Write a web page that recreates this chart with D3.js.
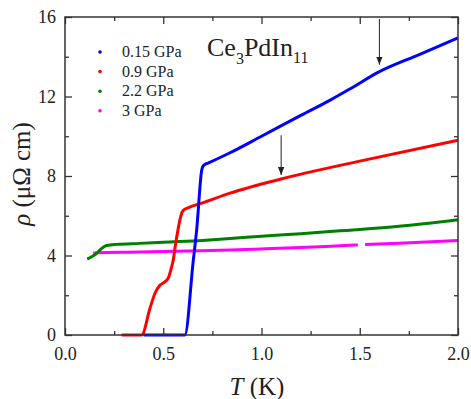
<!DOCTYPE html>
<html>
<head>
<meta charset="utf-8">
<script src="https://cdn.jsdelivr.net/npm/d3@7"></script>
<style>
  body { margin: 0; background: #fff; }
</style>
</head>
<body>
<div id="chart"></div>
<script>
// series: temperature (K) and resistivity (µΩ cm)
const blueT   = [0.40, 0.61, 0.653, 0.67, 0.696, 0.70, 0.712, 0.728, 0.84, 1.0, 1.2, 1.35, 1.45, 1.6, 1.8, 2.0];
const blueRho = [0, 0, 3.77, 5.28, 8.3, 8.45, 8.58, 8.65, 9.17, 10.0, 11.05, 11.82, 12.38, 13.25, 14.1, 14.95];

const redT   = [0.288, 0.39, 0.433, 0.458, 0.483, 0.509, 0.526, 0.543, 0.551, 0.56, 0.575, 0.59, 0.60, 0.626, 0.70, 0.84, 1.1, 1.5, 2.0];
const redRho = [0, 0, 1.36, 2.1, 2.5, 2.68, 2.87, 3.44, 3.77, 4.4, 5.3, 6.0, 6.25, 6.4, 6.65, 7.14, 7.85, 8.75, 9.8];

const greenT   = [0.113, 0.136, 0.16, 0.187, 0.212, 0.263, 0.38, 0.5, 0.7, 0.84, 1.0, 1.2, 1.4, 1.5, 1.7, 2.0];
const greenRho = [3.82, 3.94, 4.1, 4.36, 4.5, 4.56, 4.61, 4.67, 4.76, 4.85, 4.97, 5.1, 5.24, 5.31, 5.47, 5.8];

const magentaT   = [0.144, 0.16, 0.38, 0.69, 0.84, 1.0, 1.2, 1.4, 1.49, 1.51, 1.527, 1.7, 2.0];
const magentaRho = [4.11, 4.14, 4.17, 4.24, 4.28, 4.33, 4.4, 4.49, 4.53, null, 4.55, 4.62, 4.76];

const labels = ['0.15 GPa', '0.9 GPa', '2.2 GPa', '3 GPa'];
const colors = ['#0000ff', '#ff0000', '#008000', '#ff00ff'];

const xMajor = [0, 0.5, 1.0, 1.5, 2.0];
const xMinor = [0.25, 0.75, 1.25, 1.75];
const yMajor = [0, 4, 8, 12, 16];
const yMinor = [2, 6, 10, 14];

// arrows marking kinks: T position, start and end rho
const arrows = [
  { t: 1.6, from: 15.9, to: 13.6 },
  { t: 1.1, from: 10.05, to: 8.05 }
];

const serif = '"Liberation Serif", "Times New Roman", Times, serif';
const width = 471;
const height = 399;
const margin = { top: 17, bottom: 64, left: 65, right: 13 };

const svg = d3.select('#chart')
  .append('svg')
  .attr('width', width)
  .attr('height', height);

const x = d3.scaleLinear()
  .domain([0, 2])
  .range([margin.left, width - margin.right]);

const y = d3.scaleLinear()
  .domain([0, 16])
  .range([height - margin.bottom, margin.top]);

const series = [
  { t: blueT, r: blueRho },
  { t: redT, r: redRho },
  { t: greenT, r: greenRho },
  { t: magentaT, r: magentaRho }
].map((s, i) => ({
  color: colors[i],
  label: labels[i],
  points: s.t.map((t, j) => ({ t, r: s.r[j] }))
}));

const line = d3.line()
  .defined(d => d.r != null)
  .x(d => x(d.t))
  .y(d => y(d.r))
  .curve(d3.curveMonotoneX);

// draw in reverse so blue ends up on top
svg.append('g')
  .selectAll('path')
  .data(series.slice().reverse())
  .join('path')
    .attr('fill', 'none')
    .attr('stroke', d => d.color)
    .attr('stroke-width', 3)
    .attr('stroke-linejoin', 'round')
    .attr('d', d => line(d.points));

// axes, ticks pointing inward on all four sides
const axisColor = '#333';
function styleAxis(g) {
  g.select('.domain').remove();
  g.selectAll('line').attr('stroke', axisColor).attr('stroke-width', 1.3);
  g.selectAll('text').attr('font-size', 18).attr('fill', '#222');
}

const plotH = height - margin.top - margin.bottom;
const plotW = width - margin.left - margin.right;

svg.append('g')
  .attr('transform', `translate(0,${height - margin.bottom})`)
  .call(d3.axisBottom(x).tickValues(xMajor).tickSize(-7).tickPadding(12).tickFormat(d3.format('.1f')))
  .call(styleAxis);

svg.append('g')
  .attr('transform', `translate(0,${height - margin.bottom})`)
  .call(d3.axisBottom(x).tickValues(xMinor).tickSize(-4).tickFormat(''))
  .call(styleAxis);

svg.append('g')
  .attr('transform', `translate(0,${margin.top})`)
  .call(d3.axisTop(x).tickValues(xMajor).tickSize(-7).tickFormat(''))
  .call(styleAxis);

svg.append('g')
  .attr('transform', `translate(0,${margin.top})`)
  .call(d3.axisTop(x).tickValues(xMinor).tickSize(-4).tickFormat(''))
  .call(styleAxis);

svg.append('g')
  .attr('transform', `translate(${margin.left},0)`)
  .call(d3.axisLeft(y).tickValues(yMajor).tickSize(-7).tickPadding(9).tickFormat(d3.format('d')))
  .call(styleAxis);

svg.append('g')
  .attr('transform', `translate(${margin.left},0)`)
  .call(d3.axisLeft(y).tickValues(yMinor).tickSize(-4).tickFormat(''))
  .call(styleAxis);

svg.append('g')
  .attr('transform', `translate(${width - margin.right},0)`)
  .call(d3.axisRight(y).tickValues(yMajor).tickSize(-7).tickFormat(''))
  .call(styleAxis);

svg.append('g')
  .attr('transform', `translate(${width - margin.right},0)`)
  .call(d3.axisRight(y).tickValues(yMinor).tickSize(-4).tickFormat(''))
  .call(styleAxis);

svg.append('rect')
  .attr('x', margin.left)
  .attr('y', margin.top)
  .attr('width', plotW)
  .attr('height', plotH)
  .attr('fill', 'none')
  .attr('stroke', axisColor)
  .attr('stroke-width', 1.5);

// axis titles
svg.append('text')
  .attr('x', 257)
  .attr('y', 395)
  .attr('text-anchor', 'middle')
  .attr('font-size', 25)
  .call(t => {
    t.append('tspan').attr('font-style', 'italic').text('T');
    t.append('tspan').text(' (K)');
  });

svg.append('text')
  .attr('transform', `translate(30,${margin.top + plotH / 2 - 2}) rotate(-90)`)
  .attr('text-anchor', 'middle')
  .attr('font-size', 25)
  .call(t => {
    t.append('tspan').attr('font-style', 'italic').text('ρ');
    t.append('tspan').text(' (μΩ cm)');
  });

// compound label
svg.append('text')
  .attr('x', 207)
  .attr('y', 56)
  .attr('font-size', 26)
  .call(t => {
    t.append('tspan').text('Ce');
    t.append('tspan').attr('font-size', 16).attr('dy', 8).text('3');
    t.append('tspan').attr('dy', -8).text('PdIn');
    t.append('tspan').attr('font-size', 16).attr('dy', 7).text('11');
  });

// legend
const legend = svg.append('g')
  .selectAll('g')
  .data(series)
  .join('g')
    .attr('transform', (d, i) => `translate(100,${52 + i * 19.6})`);

legend.append('circle')
  .attr('r', 1.8)
  .attr('fill', d => d.color);

legend.append('text')
  .attr('x', 22)
  .attr('dy', '0.33em')
  .attr('font-size', 16)
  .text(d => d.label);

// arrows
svg.append('defs')
  .append('marker')
    .attr('id', 'head')
    .attr('viewBox', '0 0 10 10')
    .attr('refX', 10)
    .attr('refY', 5)
    .attr('markerWidth', 8)
    .attr('markerHeight', 8)
    .attr('markerUnits', 'userSpaceOnUse')
    .attr('orient', 'auto')
  .append('path')
    .attr('d', 'M0,1 L10,5 L0,9 Z')
    .attr('fill', '#222');

svg.append('g')
  .selectAll('line')
  .data(arrows)
  .join('line')
    .attr('x1', d => x(d.t))
    .attr('x2', d => x(d.t))
    .attr('y1', d => y(d.from))
    .attr('y2', d => y(d.to))
    .attr('stroke', '#222')
    .attr('stroke-width', 1)
    .attr('marker-end', 'url(#head)');

// every label in a Times-like face
svg.selectAll('text')
  .style('font-family', serif)
  .style('fill', '#222');
</script>
</body>
</html>
